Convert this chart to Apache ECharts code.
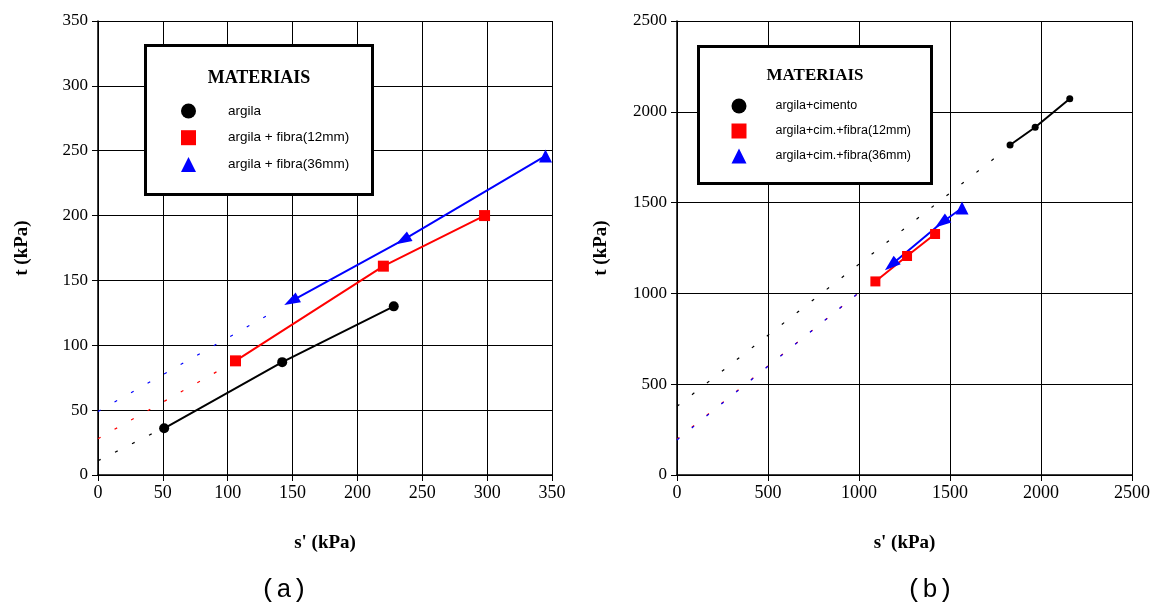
<!DOCTYPE html>
<html><head><meta charset="utf-8">
<script src="https://cdn.jsdelivr.net/npm/echarts@6/dist/echarts.min.js"></script>
<style>html,body{margin:0;padding:0;background:#fff}#c{width:1158px;height:603px}</style>
</head><body><div id="c"></div>
<script>
// ---------- Panel (a) data ----------
const aNames = ['argila', 'argila + fibra(12mm)', 'argila + fibra(36mm)'];
const aArgila  = [[51, 36], [142, 87], [228, 130]];
const aFibra12 = [[106, 88], [220, 161], [298, 200]];
const aFibra36 = [[149, 134], [235, 181], [345, 246]];
const aTrendArgila  = [[0, 11], [46, 34]];
const aTrendFibra12 = [[0, 28], [94, 81]];
const aTrendFibra36 = [[0, 49], [134, 125]];
const aTicks = [0, 50, 100, 150, 200, 250, 300, 350];

// ---------- Panel (b) data ----------
const bNames = ['argila+cimento', 'argila+cim.+fibra(12mm)', 'argila+cim.+fibra(36mm)'];
const bArgila  = [[1830, 1817], [1968, 1915], [2158, 2072]];
const bFibra12 = [[1090, 1066], [1264, 1206], [1418, 1327]];
const bFibra36 = [[1176, 1156], [1454, 1389], [1566, 1470]];
const bTrendArgila  = [[0, 378], [1790, 1780]];
const bTrendFibra12 = [[0, 197], [1008, 1010]];
const bTrendFibra36 = [[0, 193], [1003, 1007]];
const bTicks = [0, 500, 1000, 1500, 2000, 2500];

const legendTitle = 'MATERIAIS';
const axisNameX = "s' (kPa)";
const axisNameY = 't (kPa)';
const captions = ['(a)', '(b)'];

// ---------- styling ----------
const BLACK = '#000000', RED = '#ff0000', BLUE = '#0000ff';
const serif = '"Liberation Serif","Times New Roman",serif';
const sans = '"Liberation Sans",Arial,sans-serif';
const mono = '"Liberation Mono","Courier New",monospace';

function arrowData(pts) {
  // triangles drawn as arrowheads pointing back along the line (except the last one)
  return pts.map((p, i) => {
    if (i === pts.length - 1) return { value: p };
    const q = pts[i + 1];
    const ang = Math.atan2(q[1] - p[1], q[0] - p[0]) * 180 / Math.PI;
    return { value: p, symbolRotate: 90 + ang, symbolSize: [11, 16] };
  });
}

function xAxisOf(idx, ticks) {
  return {
    type: 'value', gridIndex: idx, min: ticks[0], max: ticks[ticks.length - 1],
    interval: ticks[1] - ticks[0],
    name: axisNameX, nameLocation: 'middle', nameGap: 59,
    nameTextStyle: { fontFamily: serif, fontWeight: 'bold', fontSize: 19, color: BLACK },
    axisLine: { show: true, lineStyle: { color: BLACK, width: 1.5 } },
    axisTick: { show: true, inside: false, length: 6, lineStyle: { color: BLACK, width: 1 } },
    axisLabel: { show: true, margin: 9, fontFamily: serif, fontSize: 18, color: BLACK,
                 formatter: v => String(v) },
    splitLine: { show: true, lineStyle: { color: BLACK, width: 1 } }
  };
}
function yAxisOf(idx, ticks) {
  return {
    type: 'value', gridIndex: idx, min: ticks[0], max: ticks[ticks.length - 1],
    interval: ticks[1] - ticks[0],
    name: axisNameY, nameLocation: 'middle', nameGap: 66, nameRotate: 90,
    nameTextStyle: { fontFamily: serif, fontWeight: 'bold', fontSize: 19, color: BLACK },
    axisLine: { show: true, lineStyle: { color: BLACK, width: 1.5 } },
    axisTick: { show: true, inside: false, length: 6, lineStyle: { color: BLACK, width: 1 } },
    axisLabel: { show: true, margin: 10, fontFamily: serif, fontSize: 17, color: BLACK,
                 formatter: v => String(v) },
    splitLine: { show: true, lineStyle: { color: BLACK, width: 1 } }
  };
}
function markSeries(name, idx, data, color, symbol, size) {
  return {
    name, type: 'line', xAxisIndex: idx, yAxisIndex: idx, data,
    symbol, symbolSize: size, showSymbol: true, animation: false,
    lineStyle: { color, width: 2 }, itemStyle: { color, borderWidth: 0 },
    z: 3, silent: true
  };
}
function trendSeries(idx, data, color) {
  return {
    type: 'line', xAxisIndex: idx, yAxisIndex: idx, data, symbol: 'none',
    lineStyle: { color, width: 1.2, type: [3, 16] }, z: 2, silent: true, animation: false
  };
}
function legendOf(names, left, top, gap, fontSize, pad) {
  return {
    show: true, orient: 'vertical', left, top, padding: 0, itemGap: gap,
    itemWidth: 15, itemHeight: 15, selectedMode: false, z: 6,
    textStyle: { fontFamily: sans, fontSize, color: BLACK, padding: [0, 0, 0, pad] },
    data: [
      { name: names[0], icon: 'circle' },
      { name: names[1], icon: 'rect' },
      { name: names[2], icon: 'triangle' }
    ]
  };
}

const option = {
  animation: false,
  backgroundColor: '#ffffff',
  grid: [
    { left: 98, top: 21, width: 454, height: 454, containLabel: false },
    { left: 677, top: 21, width: 455, height: 454, containLabel: false }
  ],
  xAxis: [xAxisOf(0, aTicks), xAxisOf(1, bTicks)],
  yAxis: [yAxisOf(0, aTicks), yAxisOf(1, bTicks)],
  legend: [
    legendOf(aNames, 181, 103.5, 11.7, 13.5, 27),
    legendOf(bNames, 731.5, 98.5, 10, 12.5, 24)
  ],
  graphic: [
    { type: 'rect', z: 4, shape: { x: 145.5, y: 45.5, width: 227, height: 149 },
      style: { fill: '#fff', stroke: BLACK, lineWidth: 3 } },
    { type: 'text', z: 7, x: 259, y: 78,
      style: { text: legendTitle, fontFamily: serif, fontWeight: 'bold', fontSize: 18,
               fill: BLACK, align: 'center', verticalAlign: 'middle' } },
    { type: 'rect', z: 4, shape: { x: 698.5, y: 46.5, width: 233, height: 137 },
      style: { fill: '#fff', stroke: BLACK, lineWidth: 3 } },
    { type: 'text', z: 7, x: 815, y: 75.5,
      style: { text: legendTitle, fontFamily: serif, fontWeight: 'bold', fontSize: 17,
               fill: BLACK, align: 'center', verticalAlign: 'middle' } },
    { type: 'text', z: 7, x: 284, y: 590,
      style: { text: captions[0], fontFamily: mono, fontSize: 26, fill: BLACK,
               align: 'center', verticalAlign: 'middle' } },
    { type: 'text', z: 7, x: 930, y: 590,
      style: { text: captions[1], fontFamily: mono, fontSize: 26, fill: BLACK,
               align: 'center', verticalAlign: 'middle' } }
  ],
  series: [
    trendSeries(0, aTrendArgila, BLACK),
    trendSeries(0, aTrendFibra12, RED),
    trendSeries(0, aTrendFibra36, BLUE),
    markSeries(aNames[0], 0, aArgila, BLACK, 'circle', 10),
    markSeries(aNames[1], 0, aFibra12, RED, 'rect', 11),
    markSeries(aNames[2], 0, arrowData(aFibra36), BLUE, 'triangle', 13),
    trendSeries(1, bTrendArgila, BLACK),
    trendSeries(1, bTrendFibra12, RED),
    trendSeries(1, bTrendFibra36, BLUE),
    markSeries(bNames[0], 1, bArgila, BLACK, 'circle', 7),
    markSeries(bNames[1], 1, bFibra12, RED, 'rect', 10),
    markSeries(bNames[2], 1, arrowData(bFibra36), BLUE, 'triangle', 13)
  ]
};
const chart = echarts.init(document.getElementById('c'), null, { renderer: 'canvas' });
chart.setOption(option);
</script>
</body></html>
